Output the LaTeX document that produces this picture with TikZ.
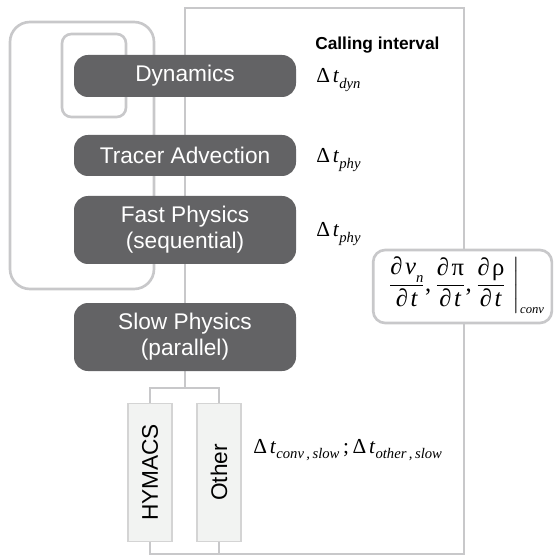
\documentclass[tikz,border=0pt]{standalone}
\usepackage{amsmath}
\usepackage{fontspec}
\setmainfont{Liberation Sans}
\newfontfamily\serifmath{Liberation Serif}
\definecolor{boxgray}{RGB}{99,99,101}
\definecolor{linegray}{RGB}{200,200,202}
\definecolor{subfill}{RGB}{242,243,242}
\definecolor{subedge}{RGB}{212,212,212}
% time step with italic subscript
\newcommand{\dtlab}[1]{{\serifmath Δ\hspace{0.14em}\textit{t}\raisebox{-0.28em}{\fontsize{11}{11}\selectfont\textit{#1}}}}
% partial derivative over time
\newcommand{\pdt}[1]{\dfrac{\hbox{\serifmath ∂\hspace{0.1em}#1}}{\hbox{\serifmath ∂\hspace{0.1em}\textit{t}}}}
\begin{document}
\begin{tikzpicture}[x=0.75pt,y=-0.75pt,
  wire/.style={draw=linegray,line width=2pt},
  loopline/.style={draw=linegray,line width=2pt},
  procbox/.style={fill=boxgray,text=white,rounded corners=10.5pt,minimum width=166.5pt,
    align=center,inner sep=0pt,font=\fontsize{17}{19.5}\selectfont},
  subbox/.style={draw=subedge,fill=subfill,line width=1.1pt,rotate=90,minimum width=103.5pt,
    minimum height=33pt,inner sep=0pt,font=\fontsize{17}{19}\selectfont},
  steplab/.style={anchor=base west,inner sep=0pt,font=\fontsize{16}{18}\selectfont}]
\useasboundingbox (0,0) rectangle (554,555);

% iteration loops on the left
\draw[loopline,rounded corners=15pt] (10,22) rectangle (154,289);
\draw[loopline,rounded corners=7pt] (62,34) rectangle (126,117);

% fixed corners of the outer cycle
\coordinate (split) at (185,388);
\coordinate (tl) at (185,8);
\coordinate (tr) at (464,8);
\coordinate (br) at (464,554);

% submodule boxes
\node[subbox] (hym) at (150,472.5) {HYMACS};
\node[subbox] (oth) at (219,472.5) {Other};

% cycle through the model components
\draw[wire] (split) -- (tl) -- (tr) -- (br) -- (hym.west |- br) -- (hym.west);
\draw[wire] (oth.west |- br) -- (oth.west);
\draw[wire] (hym.east) -- (hym.east |- split) -- (oth.east |- split) -- (oth.east);

% process boxes
\node[procbox,minimum height=31.5pt] (dyn) at (185,76) {Dynamics};
\node[procbox,minimum height=30.75pt] (trac) at (185,155.5) {Tracer Advection};
\node[procbox,minimum height=51pt] (fast) at (185,230) {Fast Physics\\(sequential)};
\node[procbox,minimum height=51pt] (slow) at (185,337) {Slow Physics\\(parallel)};

% calling intervals
\node[anchor=base west,inner sep=0pt,font=\bfseries\fontsize{13}{15}\selectfont] (hdr) at (315,50) {Calling interval};
\node[steplab] (ldyn) at (316,83) {\dtlab{dyn}};
\node[steplab] (ltrac) at (316,163) {\dtlab{phy}};
\node[steplab] (lfast) at (316,237) {\dtlab{phy}};
\node[steplab] (lslow) at (253,453) {\dtlab{conv\,,\,slow}\hbox{\serifmath\,;\,}\dtlab{other\,,\,slow}};

% convective tendencies
\node[draw=linegray,fill=white,line width=2pt,rounded corners=9pt,minimum width=134pt,
  minimum height=54.75pt,inner sep=0pt] (fbox) at (462.5,286.5) {};
\node[inner sep=0pt,font=\fontsize{18.5}{20}\selectfont] (form) at (466,285.5)
  {$\left.\pdt{\textit{v}\raisebox{-0.3em}{\fontsize{11}{11}\selectfont\textit{n}}}\hbox{\serifmath,\,}
   \pdt{π}\hbox{\serifmath,\,}\pdt{ρ}\;\right|_{\hbox{\fontsize{9.5}{9.5}\serifmath\textit{conv}}}$};
\end{tikzpicture}
\end{document}
